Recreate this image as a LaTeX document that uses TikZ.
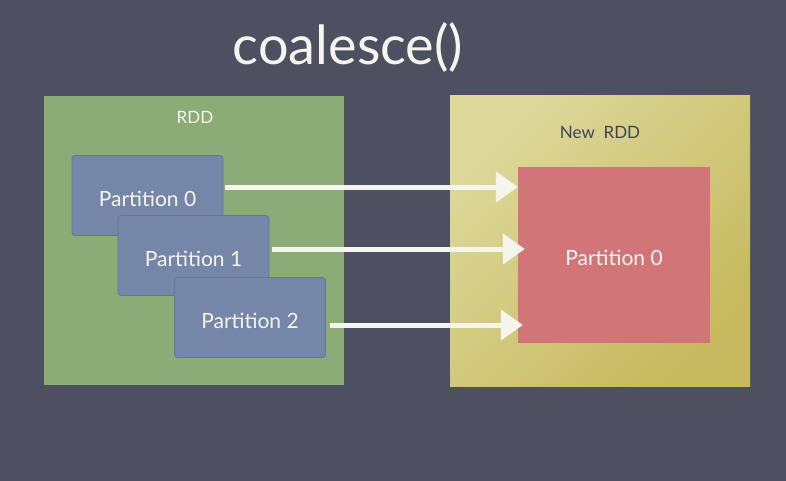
\documentclass[tikz,border=0pt]{standalone}
\usepackage{fontspec}
\setmainfont{Lato}
\usetikzlibrary{arrows.meta}
\definecolor{bgc}{HTML}{4C5060}
\definecolor{greenc}{HTML}{8BAC77}
\definecolor{bluec}{HTML}{7586A8}
\definecolor{blueedge}{HTML}{65759A}
\definecolor{yellowa}{HTML}{DDD89A}
\definecolor{yellowb}{HTML}{C6B95E}
\definecolor{redc}{HTML}{D27579}
\definecolor{chalk}{HTML}{F4F6EE}
\definecolor{darktext}{HTML}{3D4458}
\newcommand{\lowtext}[1]{\raisebox{-3pt}[\height][\depth]{#1}}
\tikzset{
  part/.style={draw=blueedge, line width=0.8pt, fill=bluec, rounded corners=3pt,
    minimum width=151pt, minimum height=80pt, text=chalk, font=\fontsize{21}{24}\selectfont},
  chalkarrow/.style={draw=chalk, line width=5pt, -{Triangle[length=22pt,width=30pt]}},
  boxlabel/.style={font=\fontsize{17}{20}\selectfont},
}
\begin{document}
\begin{tikzpicture}[x=1pt,y=-1pt]
\path[fill=bgc] (0,0) rectangle (786,481);
\useasboundingbox (0,0) rectangle (786,481);
\node[text=chalk, font=\fontsize{54}{60}\selectfont] (title) at (348,48) {coalesce()};
\node[fill=greenc, minimum width=300pt, minimum height=289pt, inner sep=0pt] (rdd) at (194,240.5) {};
\node[boxlabel, text=chalk] (rddlabel) at (195,117) {RDD};
\node[top color=yellowa, bottom color=yellowb, shading angle=45, minimum width=300pt, minimum height=290pt, inner sep=0pt] (newrdd) at (600,241) {};
\node[boxlabel, text=darktext] (newlabel) at (600,132) {New\ \ RDD};
\node[fill=redc, minimum width=192pt, minimum height=176pt, inner sep=0pt, text=chalk, font=\fontsize{21}{24}\selectfont] (red) at (614,255) {\lowtext{Partition 0}};
\node[part] (p0) at (147.5,195.5) {\lowtext{Partition 0}};
\node[part] (p1) at (193.5,255.5) {\lowtext{Partition 1}};
\node[part] (p2) at (250,317.5) {\lowtext{Partition 2}};
\draw[chalkarrow] ([shift={(2,-8.5)}]p0.east) -- ([shift={(0,-8.5)}]p0.east -| red.west);
\draw[chalkarrow] ([shift={(3,-6.5)}]p1.east) -- ([shift={(7,-6.5)}]p1.east -| red.west);
\draw[chalkarrow] ([shift={(4,7.5)}]p2.east) -- ([shift={(5,7.5)}]p2.east -| red.west);
\end{tikzpicture}
\end{document}
